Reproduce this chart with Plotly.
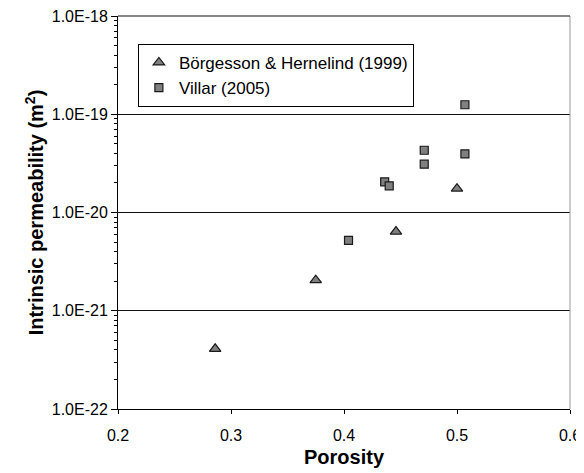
import plotly.graph_objects as go

# Börgesson & Hernelind (1999)
bh_porosity = [0.286, 0.375, 0.446, 0.500]
bh_perm = [4.1e-22, 2.05e-21, 6.4e-21, 1.75e-20]

# Villar (2005)
v_porosity = [0.404, 0.436, 0.440, 0.471, 0.471, 0.507, 0.507]
v_perm = [5.2e-21, 2.05e-20, 1.87e-20, 4.3e-20, 3.1e-20, 1.25e-19, 3.95e-20]

y_decades = [-22, -21, -20, -19, -18]
y_tickvals = [10.0 ** d for d in y_decades]
y_ticktext = ["1.0E-22", "1.0E-21", "1.0E-20", "1.0E-19", "1.0E-18"]
y_minor_mantissas = [2, 3, 4, 5, 6, 7, 8, 9]
y_minorvals = [m * 10.0 ** d for d in y_decades[:-1] for m in y_minor_mantissas]
x_tickvals = [0.2, 0.3, 0.4, 0.5, 0.6]
x_ticktext = ["0.2", "0.3", "0.4", "0.5", "0.6"]

font = "Liberation Sans, Arial, sans-serif"

fig = go.Figure()
fig.add_trace(go.Scatter(
    x=bh_porosity, y=bh_perm, mode="markers", name="Börgesson & Hernelind (1999)",
    marker=dict(symbol="triangle-up", size=10, color="#808080",
                line=dict(color="#1a1a1a", width=1.2)),
))
fig.add_trace(go.Scatter(
    x=v_porosity, y=v_perm, mode="markers", name="Villar (2005)",
    marker=dict(symbol="square", size=8, color="#808080",
                line=dict(color="#1a1a1a", width=1.2)),
))

# page body has an 8px default margin, so the figure is sized to fit the window
fig.update_layout(
    width=576, height=465,
    margin=dict(l=110, r=14, t=8, b=64, autoexpand=False),
    paper_bgcolor="white", plot_bgcolor="white",
    font=dict(family=font, size=16, color="black"),
    showlegend=True,
    legend=dict(x=0.044, y=0.929, xanchor="left", yanchor="top",
                bgcolor="white", bordercolor="black", borderwidth=1,
                font=dict(size=17), itemwidth=30, tracegroupgap=0),
    xaxis=dict(
        range=[0.2, 0.6], tickvals=x_tickvals, ticktext=x_ticktext,
        automargin=False, ticklabeloverflow="allow", ticklabelstandoff=8,
        showgrid=False, zeroline=False,
        showline=True, linecolor="black", linewidth=1,
        ticks="outside", ticklen=4, tickcolor="black",
        tickfont=dict(size=16),
        title=dict(text="<b>Porosity</b>", font=dict(size=20), standoff=6),
    ),
    yaxis=dict(
        type="log", range=[-22, -18], tickvals=y_tickvals, ticktext=y_ticktext,
        automargin=False, ticklabeloverflow="allow",
        showgrid=True, gridcolor="#111111", gridwidth=1,
        zeroline=False,
        showline=True, linecolor="black", linewidth=1,
        ticks="outside", ticklen=6, tickcolor="black",
        minor=dict(tickmode="array", tickvals=y_minorvals, ticks="outside",
                   ticklen=3, tickcolor="black", showgrid=False),
        tickfont=dict(size=16),
        title=dict(text="<b>Intrinsic permeability (m<sup>2</sup>)</b>", font=dict(size=20), standoff=2),
    ),
)

fig.add_shape(type="line", xref="paper", yref="paper", x0=1, x1=1, y0=0, y1=1,
              line=dict(color="#999999", width=1))
fig.add_shape(type="line", xref="paper", yref="paper", x0=0, x1=1, y0=1, y1=1,
              line=dict(color="#111111", width=1))

fig.write_html("out.html")
